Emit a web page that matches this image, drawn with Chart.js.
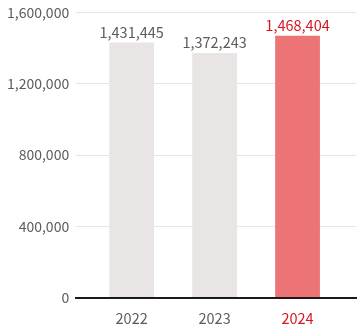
<!DOCTYPE html>
<html>
<head>
<meta charset="utf-8">
<script src="https://cdn.jsdelivr.net/npm/chart.js@4/dist/chart.umd.min.js"></script>
<style>
  html, body { margin: 0; padding: 0; background: #fff; overflow: hidden; }
  #wrap { width: 362px; height: 339px; position: relative; margin-top: -3px; }
</style>
</head>
<body>
<div id="wrap"><canvas id="c"></canvas></div>
<script>
const years = ['2022', '2023', '2024'];
const values = [1431445, 1372243, 1468404];
const yTicks = [0, 400000, 800000, 1200000, 1600000];

const barColors = ['#eae5e5', '#eae5e5', '#ec7476'];
const textColors = ['#5c5c5c', '#5c5c5c', '#d9141f'];
const FONT = "'Noto Sans CJK KR', 'Noto Sans', sans-serif";

const fmt = v => v.toLocaleString('en-US');

// Value labels above each bar
const valueLabels = {
  id: 'valueLabels',
  afterDatasetsDraw(chart) {
    const ctx = chart.ctx;
    const meta = chart.getDatasetMeta(0);
    ctx.save();
    ctx.font = '14.5px ' + FONT;
    ctx.textAlign = 'center';
    ctx.textBaseline = 'bottom';
    meta.data.forEach((bar, i) => {
      ctx.fillStyle = textColors[i];
      ctx.fillText(fmt(values[i]), bar.x, bar.y - 3);
    });
    ctx.restore();
  }
};

new Chart(document.getElementById('c'), {
  type: 'bar',
  data: {
    datasets: [{
      data: values.map((v, i) => ({ x: i, y: v })),
      backgroundColor: barColors,
      borderWidth: 0,
      categoryPercentage: 1,
      barPercentage: 0.54
    }]
  },
  options: {
    responsive: true,
    maintainAspectRatio: false,
    animation: false,
    layout: { padding: { left: 0, right: 6, top: 0, bottom: -3 } },
    plugins: { legend: { display: false }, tooltip: { enabled: false } },
    scales: {
      x: {
        type: 'linear',
        offset: false,
        min: -0.669,
        max: 2.705,
        afterBuildTicks(axis) { axis.ticks = years.map((_, i) => ({ value: i })); },
        grid: { display: false, drawTicks: false },
        border: { display: true, color: '#1a1a1a', width: 2 },
        ticks: {
          color: ctx => textColors[ctx.tick.value],
          font: { family: FONT, size: 14.5 },
          padding: 12,
          callback: v => years[v]
        }
      },
      y: {
        min: 0,
        max: 1600000,
        afterBuildTicks(axis) { axis.ticks = yTicks.map(v => ({ value: v })); },
        grid: { color: '#e6e6e6', lineWidth: 1, drawTicks: false },
        border: { display: false },
        ticks: {
          color: '#5c5c5c',
          font: { family: FONT, size: 14 },
          padding: 7,
          callback: v => fmt(v)
        }
      }
    }
  },
  plugins: [valueLabels]
});
</script>
</body>
</html>
